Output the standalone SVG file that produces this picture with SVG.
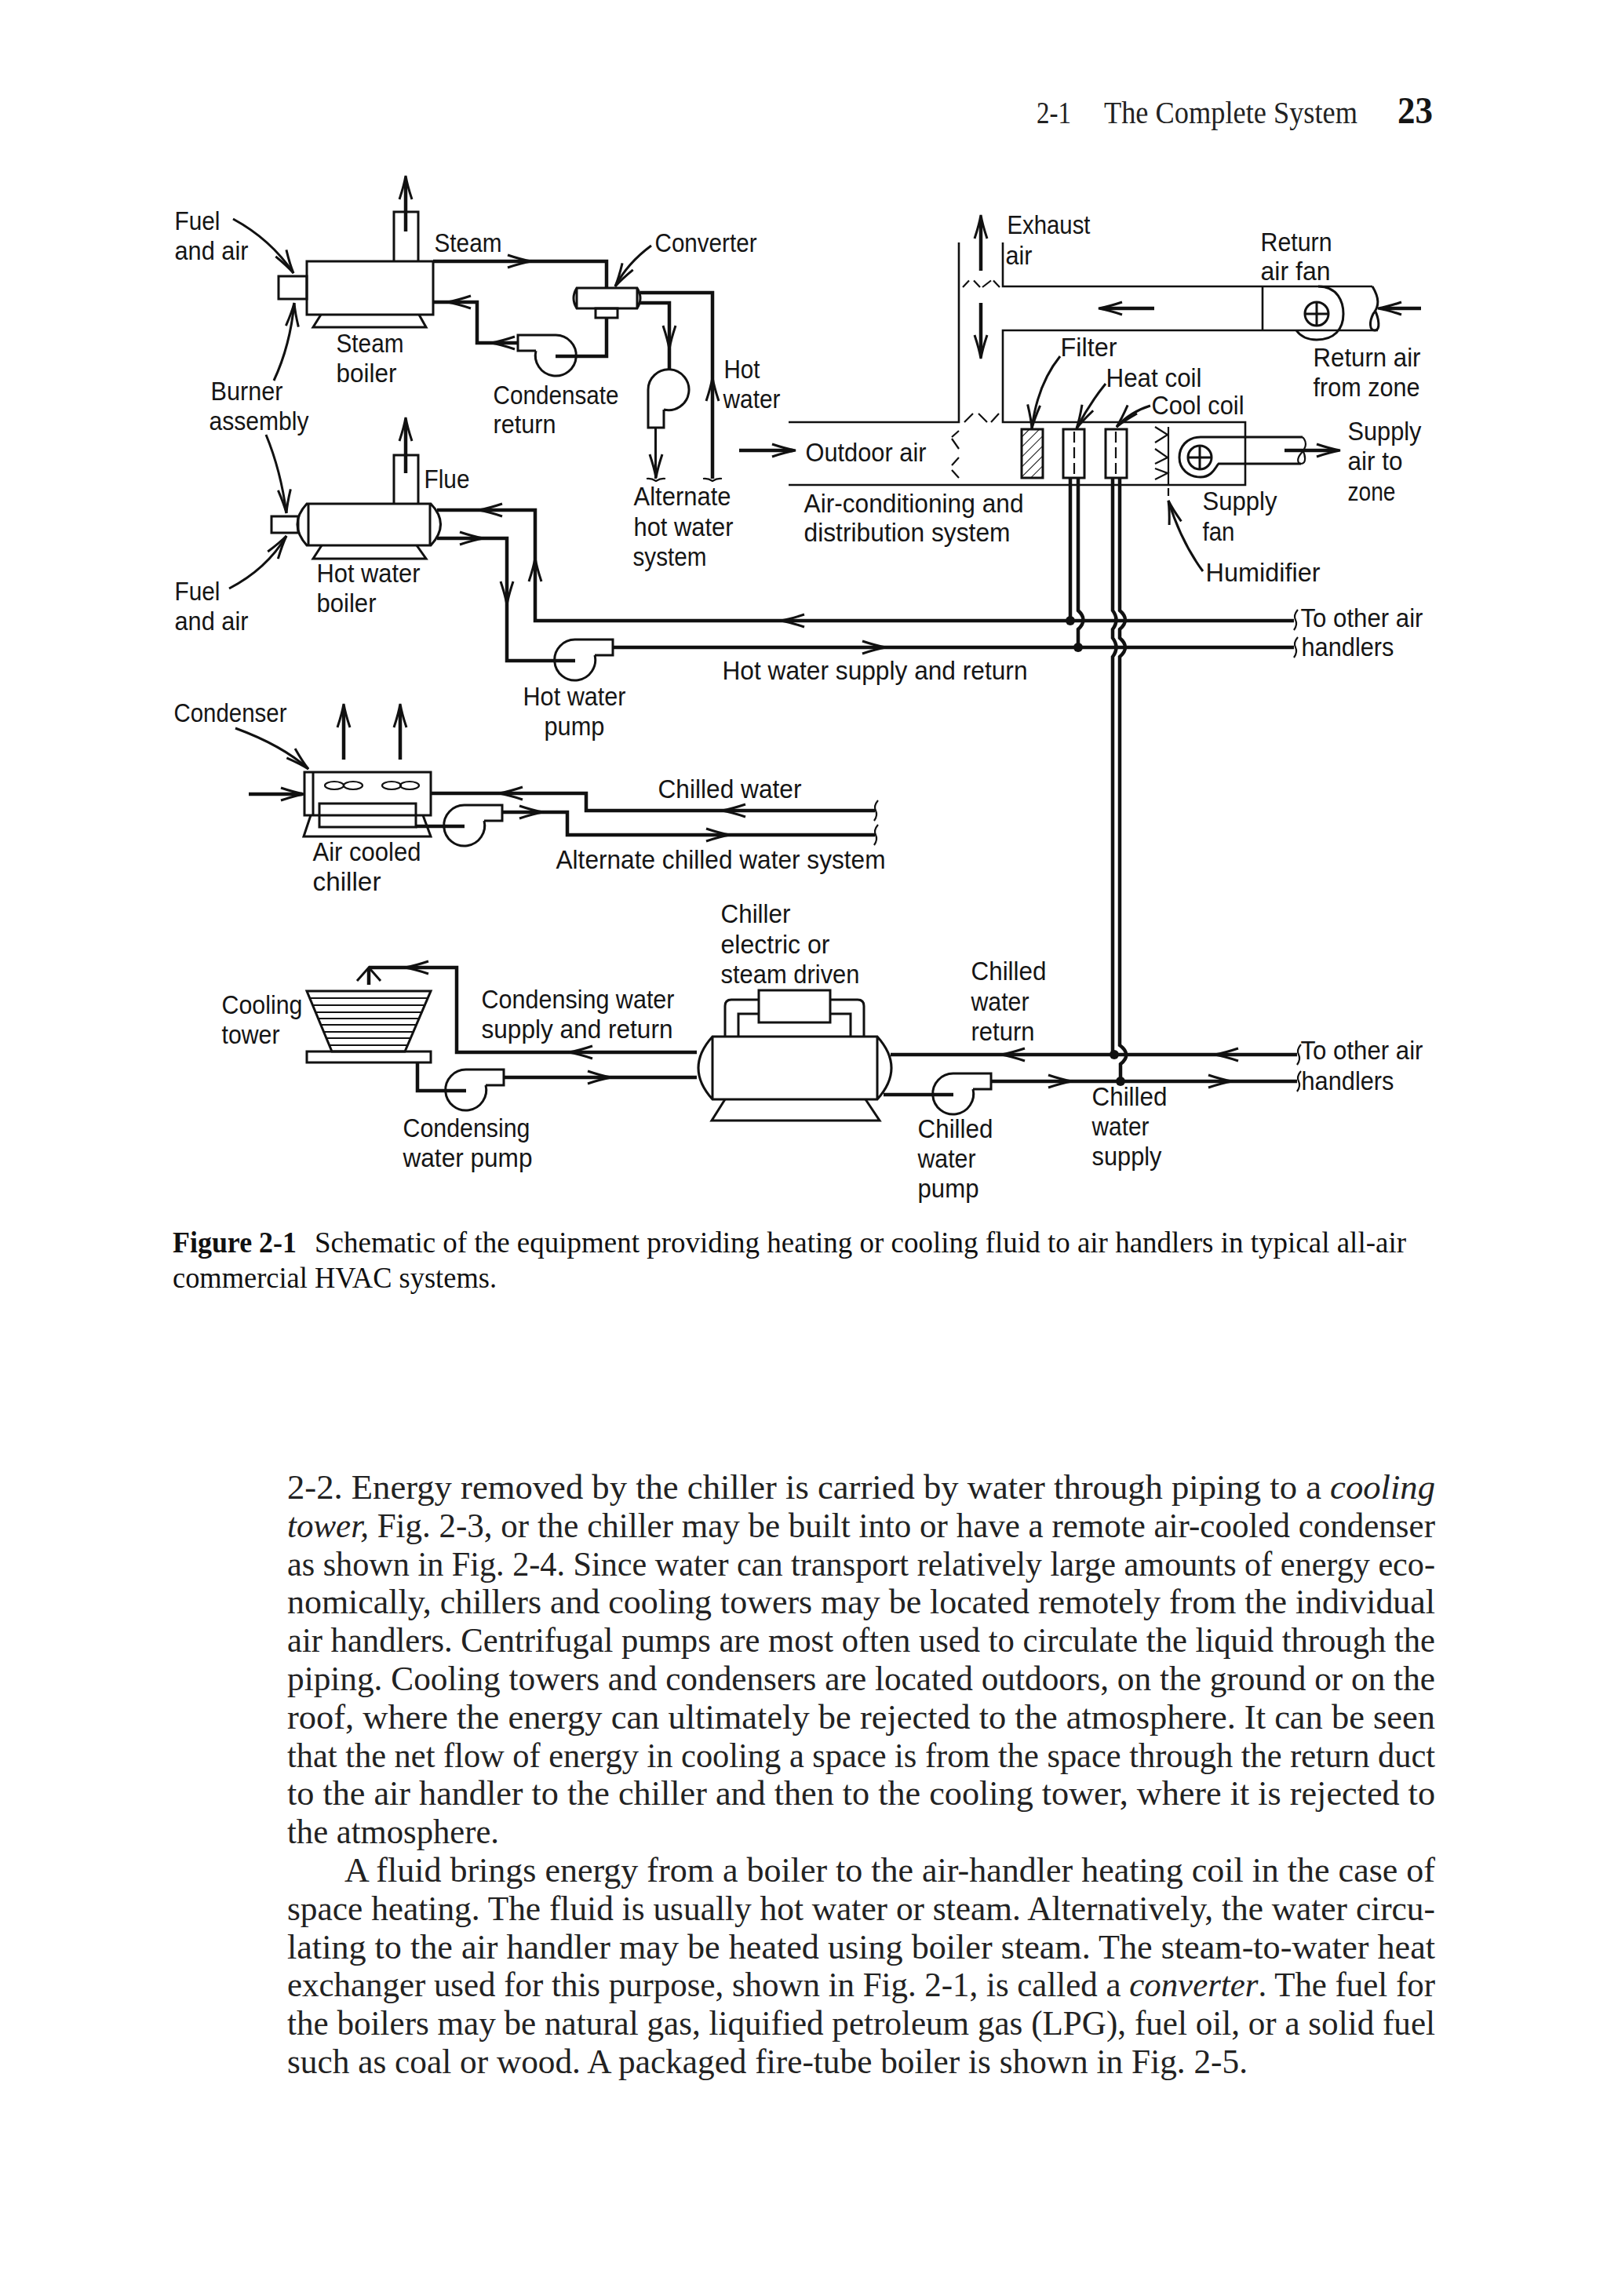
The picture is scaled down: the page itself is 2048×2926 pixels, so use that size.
<svg xmlns="http://www.w3.org/2000/svg" xmlns:xlink="http://www.w3.org/1999/xlink" width="2048" height="2926" viewBox="0 0 2048 2926">
<style>
.s{fill:none;stroke:#111;stroke-width:3}
.p{fill:none;stroke:#111;stroke-width:4.5}
.t{fill:none;stroke:#111;stroke-width:2.2}
.lead{fill:none;stroke:#111;stroke-width:3}
.f{fill:#111;stroke:none}
text{fill:#151515}
.l{font-family:"Liberation Sans Narrow","Liberation Sans",Arial,sans-serif;font-size:33px;transform:translateX(-1.5px)}
.b{font-family:"Liberation Serif","Times New Roman",serif;font-size:44.5px;fill:#222}
.c{font-family:"Liberation Serif","Times New Roman",serif;font-size:38px;fill:#111}
.h{font-family:"Liberation Serif","Times New Roman",serif;font-size:39px;fill:#222}
</style>
<defs>
<path id="ah" class="s" d="M-30,-8 Q-12,-2 0,0 Q-12,2 -30,8"/>
<path id="pump" class="s" d="M25,-7 H48 V-27 H0 A26,26 0 1 0 25,-7"/>
<g id="fan"><circle class="s" r="15"/><path class="s" d="M-15,0 H15 M0,-15 V15"/></g>
<path id="sqv" class="t" d="M3,-13 Q-3,-6 0,0 Q3,6 -2,13"/>
<path id="sqh" class="t" d="M-12,-1 Q-6,-2 0,2 Q6,-2 12,-1"/>
<pattern id="hatch" width="9" height="9" patternUnits="userSpaceOnUse" patternTransform="rotate(45)"><path d="M0,0 V9" stroke="#111" stroke-width="2"/></pattern>
</defs>
<rect width="2048" height="2926" fill="#fff"/>

<g id="header">
<text class="h" x="1321" y="157" textLength="44" lengthAdjust="spacingAndGlyphs">2-1</text>
<text class="h" x="1407" y="157" textLength="323" lengthAdjust="spacingAndGlyphs">The Complete System</text>
<text x="1781" y="157" font-family="Liberation Serif,serif" font-weight="700" font-size="48" textLength="45" lengthAdjust="spacingAndGlyphs">23</text>
</g>

<g id="connectors">
<path class="p" d="M552,333 H773 V367"/>
<path class="p" d="M773,405 V454 H708"/>
<path class="p" d="M659,437 H608 V385 H552"/>
<path class="p" d="M816,373 H908 V610"/>
<path class="p" d="M816,386 H853 V470"/>
<path class="t" style="stroke-width:3" d="M835.500,546 V610"/>
<path class="p" d="M557,650 H682 V791 H1364"/>
<path class="p" d="M1364,791 H1649"/>
<path class="p" d="M557,686 H646 V842 H733"/>
<path class="p" d="M781,825 H1649"/>
<path class="p" d="M1364,609 V790"/>
<path class="p" d="M1374,609 V778 Q1387,790 1374,802 V825"/>
<path class="p" d="M1418,609 V778 Q1427,790 1418,802 V813 Q1427,825 1418,837 V1344"/>
<path class="p" d="M1427,609 V778 Q1441,790 1427,802 V813 Q1441,825 1427,837 V1332 Q1443,1344 1428,1356 V1378"/>
<circle class="f" cx="1364" cy="791" r="6"/><circle class="f" cx="1374" cy="825" r="6"/>
<circle class="f" cx="1420" cy="1344" r="6"/><circle class="f" cx="1428" cy="1378" r="6"/>
<path class="p" d="M549,1011 H747 V1033 H1115"/>
<path class="p" d="M530,1053 H592"/>
<path class="p" d="M640,1035 H723 V1064 H1115"/>
<path class="p" d="M888,1341 H582 V1233 H470"/>
<path class="p" d="M470,1255 V1235"/>
<path class="p" d="M532,1354 V1390 H594"/>
<path class="p" d="M643,1373 H888"/>
<path class="p" d="M1135,1344 H1653"/>
<path class="p" d="M1126,1395 H1215"/>
<path class="p" d="M1264,1378 H1653"/>
<path class="p" d="M517,295 V232 M517,603 V540 M438,968 V905 M510,968 V905 M317,1012 H385"/>
<path class="p" d="M1250,345 V282 M1250,386 V450 M1471,393 H1405 M1811,393 H1762 M942,574 H1010 M1637,574 H1702"/>
<use href="#sqh" x="836" y="611"/><use href="#sqh" x="908" y="611"/>
<use href="#sqv" x="1651" y="790"/><use href="#sqv" x="1651" y="825"/>
<use href="#sqv" x="1655" y="1344"/><use href="#sqv" x="1655" y="1378"/>
<use href="#sqv" x="1116" y="1033"/><use href="#sqv" x="1116" y="1064"/>
<g id="arrowheads">
<use href="#ah" transform="translate(677,333)"/>
<use href="#ah" transform="translate(570,385) rotate(180)"/>
<use href="#ah" transform="translate(626,437) rotate(180)"/>
<use href="#ah" transform="translate(908,481) rotate(-90)"/>
<use href="#ah" transform="translate(853,445) rotate(90)"/>
<use href="#ah" transform="translate(836,609) rotate(90)"/>
<use href="#ah" transform="translate(517,224) rotate(-90)"/>
<use href="#ah" transform="translate(517,532) rotate(-90)"/>
<use href="#ah" transform="translate(610,650) rotate(180)"/>
<use href="#ah" transform="translate(616,686)"/>
<use href="#ah" transform="translate(682,711) rotate(-90)"/>
<use href="#ah" transform="translate(646,771) rotate(90)"/>
<use href="#ah" transform="translate(995,791) rotate(180)"/>
<use href="#ah" transform="translate(1129,825)"/>
<use href="#ah" transform="translate(438,897) rotate(-90)"/>
<use href="#ah" transform="translate(510,897) rotate(-90)"/>
<use href="#ah" transform="translate(388,1012)"/>
<use href="#ah" transform="translate(636,1011) rotate(180)"/>
<use href="#ah" transform="translate(920,1033) rotate(180)"/>
<use href="#ah" transform="translate(692,1035)"/>
<use href="#ah" transform="translate(930,1064)"/>
<use href="#ah" transform="translate(516,1233) rotate(180)"/>
<path class="s" d="M455,1250 L470,1233 L485,1250"/>
<use href="#ah" transform="translate(725,1341) rotate(180)"/>
<use href="#ah" transform="translate(779,1373)"/>
<use href="#ah" transform="translate(1276,1344) rotate(180)"/>
<use href="#ah" transform="translate(1548,1344) rotate(180)"/>
<use href="#ah" transform="translate(1366,1378)"/>
<use href="#ah" transform="translate(1570,1378)"/>
<use href="#ah" transform="translate(1250,274) rotate(-90)"/>
<use href="#ah" transform="translate(1250,457) rotate(90)"/>
<use href="#ah" transform="translate(1400,393) rotate(180)"/>
<use href="#ah" transform="translate(1756,393) rotate(180)"/>
<use href="#ah" transform="translate(1014,574)"/>
<use href="#ah" transform="translate(1708,574)"/>
</g>
<g id="leaders">
<path class="lead" d="M297,279 Q345,305 374,348"/><use href="#ah" transform="translate(374,348) rotate(58)"/>
<path class="lead" d="M349,485 Q370,440 375,386"/><use href="#ah" transform="translate(375,386) rotate(-85)"/>
<path class="lead" d="M339,554 Q358,600 365,654"/><use href="#ah" transform="translate(365,654) rotate(85)"/>
<path class="lead" d="M292,750 Q340,725 365,683"/><use href="#ah" transform="translate(365,683) rotate(-55)"/>
<path class="lead" d="M830,313 Q800,335 784,365"/><use href="#ah" transform="translate(784,365) rotate(122)"/>
<path class="lead" d="M300,928 Q360,950 393,980"/><use href="#ah" transform="translate(393,980) rotate(42)"/>
<path class="lead" d="M1351,454 Q1322,490 1315,546"/><use href="#ah" transform="translate(1315,546) rotate(95)"/>
<path class="lead" d="M1409,489 Q1388,515 1372,546"/><use href="#ah" transform="translate(1372,546) rotate(118)"/>
<path class="lead" d="M1466,517 Q1440,525 1423,544"/><use href="#ah" transform="translate(1423,544) rotate(132)"/>
<path class="lead" d="M1533,728 Q1505,690 1489,638"/><use href="#ah" transform="translate(1489,638) rotate(-107)"/>
</g>
</g>

<g id="steam-boiler">
<rect class="s" x="391" y="333" width="161" height="68"/>
<rect class="s" x="355" y="352" width="36" height="29"/>
<path class="s" d="M409,401 L399,417 H543 L534,401"/>
<path class="s" d="M502,333 V270 H533 V333"/>
<text class="l" x="430" y="449" textLength="86" lengthAdjust="spacingAndGlyphs">Steam</text>
<text class="l" x="430" y="487" textLength="77" lengthAdjust="spacingAndGlyphs">boiler</text>
</g>
<g id="converter">
<path class="s" d="M735,367 H812 Q820,380 812,393 H735 Q727,380 735,367 Z M735,367 V393 M812,367 V393"/>
<rect class="s" x="759" y="393" width="28" height="12"/>
</g>
<g id="condensate-pump"><use href="#pump" transform="translate(708,454) scale(-1,1)"/>
<text class="l" x="630" y="515" textLength="160" lengthAdjust="spacingAndGlyphs">Condensate</text>
<text class="l" x="630" y="552" textLength="80" lengthAdjust="spacingAndGlyphs">return</text>
</g>
<g id="alternate-hot-pump"><use href="#pump" transform="translate(853,497) matrix(0,1,1,0,0,0)"/></g>
<g id="hot-water-boiler">
<path class="s" d="M391,642 H549 Q574,668 549,695 H391 Q367,668 391,642 Z M393,642 V695 M548,642 V695"/>
<rect class="s" x="346" y="658" width="34" height="21"/>
<path class="s" d="M410,695 L399,712 H543 L531,695"/>
<path class="s" d="M502,642 V580 H533 V642"/>
<text class="l" x="405" y="742" textLength="132" lengthAdjust="spacingAndGlyphs">Hot water</text>
<text class="l" x="405" y="780" textLength="76" lengthAdjust="spacingAndGlyphs">boiler</text>
</g>
<g id="hot-water-pump"><use href="#pump" transform="translate(733,842)"/>
<text class="l" x="668" y="899" textLength="131" lengthAdjust="spacingAndGlyphs">Hot water</text>
<text class="l" x="695" y="937" textLength="77" lengthAdjust="spacingAndGlyphs">pump</text>
</g>
<g id="air-cooled-chiller">
<rect class="s" x="388" y="984" width="161" height="55"/>
<path class="s" d="M399,984 V1039"/>
<ellipse class="t" cx="426" cy="1001" rx="12" ry="5"/><ellipse class="t" cx="450" cy="1001" rx="12" ry="5"/>
<ellipse class="t" cx="499" cy="1001" rx="12" ry="5"/><ellipse class="t" cx="522" cy="1001" rx="12" ry="5"/>
<rect class="s" x="407" y="1024" width="123" height="30"/>
<path class="s" d="M396,1039 L387,1066 H549 L539,1039"/>
<text class="l" x="400" y="1097" textLength="138" lengthAdjust="spacingAndGlyphs">Air cooled</text>
<text class="l" x="400" y="1135" textLength="87" lengthAdjust="spacingAndGlyphs">chiller</text>
</g>
<g id="chiller-pump"><use href="#pump" transform="translate(592,1053)"/></g>
<g id="cooling-tower">
<path class="s" d="M391,1263 H549 L516,1340 H423 Z"/>
<path class="t" d="M395,1272 H545 M398.500,1281 H541 M402,1290 H537.500 M405.500,1298 H534 M409,1306 H530.500 M412.600,1315 H526.700 M416,1323 H523 M419.700,1332 H519.400"/>
<rect class="s" x="391" y="1340" width="158" height="14"/>
<text class="l" x="284" y="1292" textLength="103" lengthAdjust="spacingAndGlyphs">Cooling</text>
<text class="l" x="284" y="1330" textLength="74" lengthAdjust="spacingAndGlyphs">tower</text>
</g>
<g id="condensing-pump"><use href="#pump" transform="translate(594,1390)"/>
<text class="l" x="515" y="1449" textLength="162" lengthAdjust="spacingAndGlyphs">Condensing</text>
<text class="l" x="515" y="1487" textLength="165" lengthAdjust="spacingAndGlyphs">water pump</text>
</g>
<g id="chiller">
<path class="s" d="M908,1321 H1118 Q1154,1361 1118,1401 H908 Q872,1361 908,1321 Z M908,1321 V1401 M1118,1321 V1401"/>
<path class="s" d="M924,1401 L907,1428 H1121 L1103,1401"/>
<rect class="s" x="967" y="1262" width="91" height="41"/>
<path class="s" d="M924,1321 V1282 Q924,1274 932,1274 H967 M941,1321 V1292 H967 M1058,1274 H1093 Q1101,1274 1101,1282 V1321 M1058,1292 H1084 V1321"/>
<text class="l" x="920" y="1176" textLength="89" lengthAdjust="spacingAndGlyphs">Chiller</text>
<text class="l" x="920" y="1215" textLength="139" lengthAdjust="spacingAndGlyphs">electric or</text>
<text class="l" x="920" y="1253" textLength="177" lengthAdjust="spacingAndGlyphs">steam driven</text>
</g>
<g id="chilled-water-pump"><use href="#pump" transform="translate(1215,1395)"/>
<text class="l" x="1171" y="1450" textLength="96" lengthAdjust="spacingAndGlyphs">Chilled</text>
<text class="l" x="1171" y="1488" textLength="74" lengthAdjust="spacingAndGlyphs">water</text>
<text class="l" x="1171" y="1526" textLength="78" lengthAdjust="spacingAndGlyphs">pump</text>
</g>
<g id="air-handler">
<path class="t" style="stroke-width:2.6" d="M1222,309 V538 H1005 M1278,309 V365 H1749 M1756,421 H1278 V538 H1587 V618 H1005 M1609,365 V421"/>
<path class="t" d="M1227,366 L1235,357.500 M1241,357.500 L1249,366 M1252,366 L1263,357.500 M1266,357.500 L1274,366"/>
<path class="t" d="M1229,538 L1240,527 M1247,527 L1258,538 M1263,538 L1273,527"/>
<path class="t" d="M1222,549 L1213,557 M1213,559 L1222,572 M1222,583 L1213,593 M1213,599 L1222,609"/>
<path class="s" d="M1749,365 C1758,380 1758,390 1750,400 C1745,410 1745,421 1752,421 C1760,421 1757,405 1752,395"/>
<path class="s" d="M1680,365 C1705,365 1712,385 1712,400 C1712,420 1700,433 1678,433 C1665,433 1657,428 1652,421"/>
<use href="#fan" transform="translate(1678,400)"/>
<rect x="1302" y="547" width="27" height="62" class="s" style="fill:url(#hatch)"/>
<rect class="s" x="1355" y="547" width="27" height="62"/><path class="t" stroke-dasharray="14 6" d="M1369,550 V609"/>
<rect class="s" x="1409" y="547" width="27" height="62"/><path class="t" stroke-dasharray="14 6" d="M1422,550 V609"/>
<path class="t" d="M1489,544 V618 M1489,622 V632"/>
<path class="t" d="M1472,544 L1488,554 L1472,564 M1472,572 L1488,583 L1472,591 M1472,597 L1488,603 L1472,611"/>
<path class="s" d="M1660,557 H1530 C1512,557 1503,570 1503,583 C1503,598 1515,608 1530,608 C1545,608 1549,595 1553,591 H1658"/>
<path class="t" d="M1660,557 C1668,565 1662,574 1658,578 C1652,585 1654,591 1658,591 C1665,591 1664,580 1660,574"/>
<use href="#fan" transform="translate(1529,583)"/>
</g>
<g id="labels">
<text class="l" x="224" y="293" textLength="58" lengthAdjust="spacingAndGlyphs">Fuel</text>
<text class="l" x="224" y="331" textLength="94" lengthAdjust="spacingAndGlyphs">and air</text>
<text class="l" x="555" y="321" textLength="86" lengthAdjust="spacingAndGlyphs">Steam</text>
<text class="l" x="836" y="321" textLength="130" lengthAdjust="spacingAndGlyphs">Converter</text>
<text class="l" x="270" y="510" textLength="92" lengthAdjust="spacingAndGlyphs">Burner</text>
<text class="l" x="268" y="548" textLength="127" lengthAdjust="spacingAndGlyphs">assembly</text>
<text class="l" x="924" y="482" textLength="46" lengthAdjust="spacingAndGlyphs">Hot</text>
<text class="l" x="923" y="520" textLength="73" lengthAdjust="spacingAndGlyphs">water</text>
<text class="l" x="809" y="644" textLength="124" lengthAdjust="spacingAndGlyphs">Alternate</text>
<text class="l" x="809" y="683" textLength="127" lengthAdjust="spacingAndGlyphs">hot water</text>
<text class="l" x="808" y="721" textLength="94" lengthAdjust="spacingAndGlyphs">system</text>
<text class="l" x="542" y="622" textLength="58" lengthAdjust="spacingAndGlyphs">Flue</text>
<text class="l" x="224" y="765" textLength="58" lengthAdjust="spacingAndGlyphs">Fuel</text>
<text class="l" x="224" y="803" textLength="94" lengthAdjust="spacingAndGlyphs">and air</text>
<text class="l" x="223" y="920" textLength="144" lengthAdjust="spacingAndGlyphs">Condenser</text>
<text class="l" x="840" y="1017" textLength="183" lengthAdjust="spacingAndGlyphs">Chilled water</text>
<text class="l" x="710" y="1107" textLength="420" lengthAdjust="spacingAndGlyphs">Alternate chilled water system</text>
<text class="l" x="615" y="1285" textLength="246" lengthAdjust="spacingAndGlyphs">Condensing water</text>
<text class="l" x="615" y="1323" textLength="244" lengthAdjust="spacingAndGlyphs">supply and return</text>
<text class="l" x="1239" y="1249" textLength="96" lengthAdjust="spacingAndGlyphs">Chilled</text>
<text class="l" x="1239" y="1288" textLength="74" lengthAdjust="spacingAndGlyphs">water</text>
<text class="l" x="1239" y="1326" textLength="81" lengthAdjust="spacingAndGlyphs">return</text>
<text class="l" x="1659" y="1350" textLength="156" lengthAdjust="spacingAndGlyphs">To other air</text>
<text class="l" x="1660" y="1389" textLength="118" lengthAdjust="spacingAndGlyphs">handlers</text>
<text class="l" x="1393" y="1409" textLength="96" lengthAdjust="spacingAndGlyphs">Chilled</text>
<text class="l" x="1393" y="1447" textLength="73" lengthAdjust="spacingAndGlyphs">water</text>
<text class="l" x="1393" y="1485" textLength="89" lengthAdjust="spacingAndGlyphs">supply</text>
<text class="l" x="1285" y="298" textLength="106" lengthAdjust="spacingAndGlyphs">Exhaust</text>
<text class="l" x="1283" y="337" textLength="34" lengthAdjust="spacingAndGlyphs">air</text>
<text class="l" x="1608" y="320" textLength="91" lengthAdjust="spacingAndGlyphs">Return</text>
<text class="l" x="1608" y="357" textLength="89" lengthAdjust="spacingAndGlyphs">air fan</text>
<text class="l" x="1675" y="467" textLength="137" lengthAdjust="spacingAndGlyphs">Return air</text>
<text class="l" x="1675" y="505" textLength="136" lengthAdjust="spacingAndGlyphs">from zone</text>
<text class="l" x="1353" y="454" textLength="72" lengthAdjust="spacingAndGlyphs">Filter</text>
<text class="l" x="1411" y="493" textLength="122" lengthAdjust="spacingAndGlyphs">Heat coil</text>
<text class="l" x="1469" y="528" textLength="118" lengthAdjust="spacingAndGlyphs">Cool coil</text>
<text class="l" x="1028" y="588" textLength="154" lengthAdjust="spacingAndGlyphs">Outdoor air</text>
<text class="l" x="1719" y="561" textLength="94" lengthAdjust="spacingAndGlyphs">Supply</text>
<text class="l" x="1719" y="599" textLength="70" lengthAdjust="spacingAndGlyphs">air to</text>
<text class="l" x="1719" y="638" textLength="61" lengthAdjust="spacingAndGlyphs">zone</text>
<text class="l" x="1026" y="653" textLength="280" lengthAdjust="spacingAndGlyphs">Air-conditioning and</text>
<text class="l" x="1026" y="690" textLength="263" lengthAdjust="spacingAndGlyphs">distribution system</text>
<text class="l" x="1534" y="650" textLength="95" lengthAdjust="spacingAndGlyphs">Supply</text>
<text class="l" x="1534" y="689" textLength="41" lengthAdjust="spacingAndGlyphs">fan</text>
<text class="l" x="1538" y="741" textLength="146" lengthAdjust="spacingAndGlyphs">Humidifier</text>
<text class="l" x="1659" y="799" textLength="156" lengthAdjust="spacingAndGlyphs">To other air</text>
<text class="l" x="1660" y="836" textLength="118" lengthAdjust="spacingAndGlyphs">handlers</text>
<text class="l" x="922" y="866" textLength="389" lengthAdjust="spacingAndGlyphs">Hot water supply and return</text>
</g>
<g id="caption">
<text class="c" x="220" y="1596" font-weight="700" textLength="158" lengthAdjust="spacingAndGlyphs">Figure 2-1</text>
<text class="c" x="401" y="1596" textLength="1391" lengthAdjust="spacingAndGlyphs">Schematic of the equipment providing heating or cooling fluid to air handlers in typical all-air</text>
<text class="c" x="220" y="1641" textLength="413" lengthAdjust="spacingAndGlyphs">commercial HVAC systems.</text>
</g>
<g id="body">
<text class="b" x="366" y="1910" textLength="1463" lengthAdjust="spacingAndGlyphs">2-2. Energy removed by the chiller is carried by water through piping to a <tspan font-style="italic">cooling</tspan></text>
<text class="b" x="366" y="1958.800" textLength="1463" lengthAdjust="spacingAndGlyphs"><tspan font-style="italic">tower,</tspan> Fig. 2-3, or the chiller may be built into or have a remote air-cooled condenser</text>
<text class="b" x="366" y="2007.600" textLength="1463" lengthAdjust="spacingAndGlyphs">as shown in Fig. 2-4. Since water can transport relatively large amounts of energy eco-</text>
<text class="b" x="366" y="2056.400" textLength="1463" lengthAdjust="spacingAndGlyphs">nomically, chillers and cooling towers may be located remotely from the individual</text>
<text class="b" x="366" y="2105.200" textLength="1463" lengthAdjust="spacingAndGlyphs">air handlers. Centrifugal pumps are most often used to circulate the liquid through the</text>
<text class="b" x="366" y="2154" textLength="1463" lengthAdjust="spacingAndGlyphs">piping. Cooling towers and condensers are located outdoors, on the ground or on the</text>
<text class="b" x="366" y="2202.800" textLength="1463" lengthAdjust="spacingAndGlyphs">roof, where the energy can ultimately be rejected to the atmosphere. It can be seen</text>
<text class="b" x="366" y="2251.600" textLength="1463" lengthAdjust="spacingAndGlyphs">that the net flow of energy in cooling a space is from the space through the return duct</text>
<text class="b" x="366" y="2300.400" textLength="1463" lengthAdjust="spacingAndGlyphs">to the air handler to the chiller and then to the cooling tower, where it is rejected to</text>
<text class="b" x="366" y="2349.200" textLength="270" lengthAdjust="spacingAndGlyphs">the atmosphere.</text>
<text class="b" x="439" y="2398" textLength="1390" lengthAdjust="spacingAndGlyphs">A fluid brings energy from a boiler to the air-handler heating coil in the case of</text>
<text class="b" x="366" y="2446.800" textLength="1463" lengthAdjust="spacingAndGlyphs">space heating. The fluid is usually hot water or steam. Alternatively, the water circu-</text>
<text class="b" x="366" y="2495.600" textLength="1463" lengthAdjust="spacingAndGlyphs">lating to the air handler may be heated using boiler steam. The steam-to-water heat</text>
<text class="b" x="366" y="2544.400" textLength="1463" lengthAdjust="spacingAndGlyphs">exchanger used for this purpose, shown in Fig. 2-1, is called a <tspan font-style="italic">converter</tspan>. The fuel for</text>
<text class="b" x="366" y="2593.200" textLength="1463" lengthAdjust="spacingAndGlyphs">the boilers may be natural gas, liquified petroleum gas (LPG), fuel oil, or a solid fuel</text>
<text class="b" x="366" y="2642" textLength="1224" lengthAdjust="spacingAndGlyphs">such as coal or wood. A packaged fire-tube boiler is shown in Fig. 2-5.</text>
</g>
</svg>
